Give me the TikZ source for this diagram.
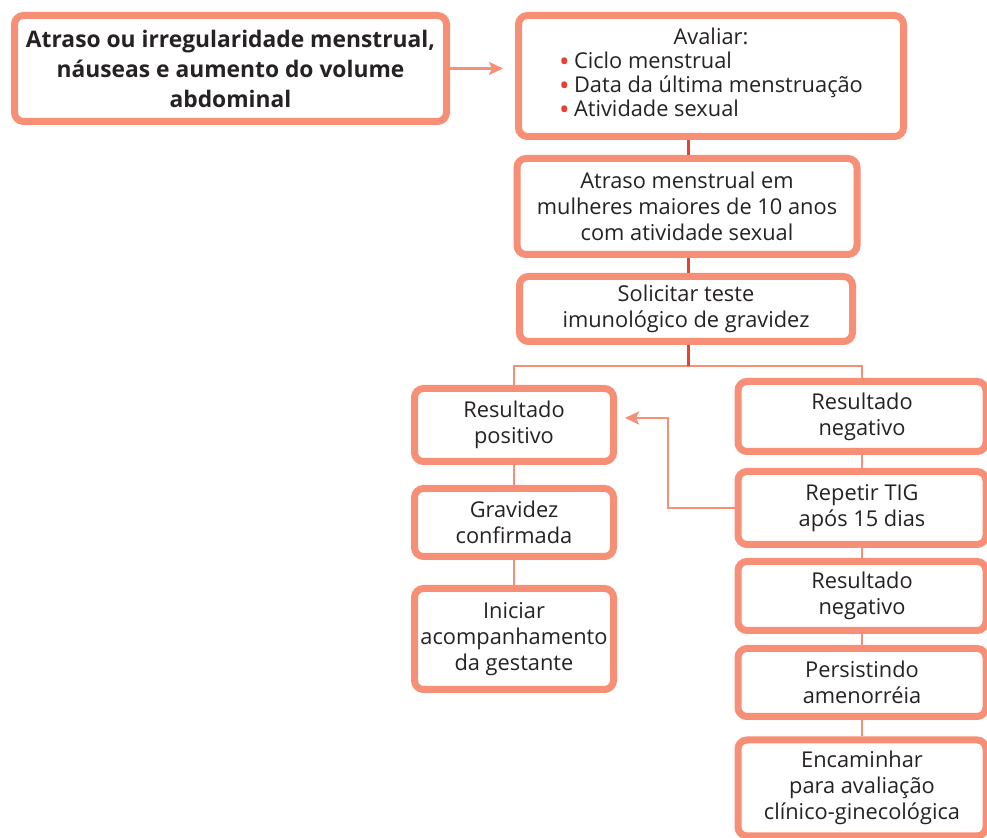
\documentclass[tikz,border=0pt]{standalone}
\usepackage{fontspec}
\setmainfont{Open Sans}
\usepackage{tikz}
\usetikzlibrary{shapes.geometric,arrows,arrows.meta}
\definecolor{boxline}{RGB}{246,143,117}
\definecolor{redline}{RGB}{233,64,52}
\definecolor{inkgray}{RGB}{38,34,35}
\newcommand{\redbul}{\makebox[7.5pt][l]{\color{redline}\raisebox{-1.6pt}[0pt][0pt]{\fontsize{14}{12}\selectfont\textbullet}}}
\tikzstyle{process} = [rectangle, rounded corners=4.5pt, draw=boxline, line width=3.5pt,
fill=white, text=inkgray, align=center, inner sep=0pt, font=\fontsize{10.9}{13}\selectfont]
\tikzstyle{start} = [process, font=\bfseries\fontsize{11.4}{15}\selectfont]
\tikzstyle{link} = [draw=boxline, line width=1pt]
\tikzstyle{mainlink} = [draw=redline, line width=1.5pt]
\tikzstyle{arrow} = [draw=boxline, line width=1.25pt, -{Stealth[length=7pt,width=6.5pt,inset=1.5pt]}]

\begin{document}
\begin{tikzpicture}[x=0.5pt,y=-0.5pt]
                 \useasboundingbox (0,0) rectangle (987,838);
                 % top row
                 \node (sinais) [start, minimum width=216pt, minimum height=53pt] at (230.5,68.5)
                     {Atraso ou irregularidade menstrual,\\ náuseas e aumento do volume\\ abdominal};
                 \node (avaliar) [process, minimum width=192.5pt, minimum height=60.5pt] at (711,76)
                     {\fontsize{10.9}{12}\selectfont
                      \begin{tabular}{@{}l@{}}
                      \multicolumn{1}{@{}c@{}}{Avaliar:}\\
                      \redbul Ciclo menstrual\\
                      \redbul Data da última menstruação\\
                      \redbul Atividade sexual
                      \end{tabular}};
                 % central column
                 \node (atraso) [process, minimum width=170pt, minimum height=48pt] at (687,206.5)
                     {Atraso menstrual em\\ mulheres maiores de 10 anos\\ com atividade sexual};
                 \node (teste) [process, minimum width=166.5pt, minimum height=32.5pt] at (686,309)
                     {Solicitar teste\\ imunológico de gravidez};
                 \coordinate (split) at (688,366);
                 % left column
                 \node (pos) [process, minimum width=99.5pt, minimum height=36.5pt] at (514,425)
                     {Resultado\\ positivo};
                 \node (grav) [process, minimum width=99.5pt, minimum height=34pt] at (514,522.5)
                     {Gravidez\\ confirmada};
                 \node (pre) [process, minimum width=99.5pt, minimum height=50.5pt] at (514,639)
                     {Iniciar\\ acompanhamento\\ da gestante};
                 % right column
                 \node (neg1) [process, minimum width=124pt, minimum height=35pt] at (862,416.5)
                     {Resultado\\ negativo};
                 \node (rep) [process, minimum width=124pt, minimum height=36.5pt] at (862,508)
                     {Repetir TIG\\ após 15 dias};
                 \node (neg2) [process, minimum width=124pt, minimum height=34.5pt] at (862,596)
                     {Resultado\\ negativo};
                 \node (amen) [process, minimum width=124pt, minimum height=34pt] at (862,682.5)
                     {Persistindo\\ amenorréia};
                 \node (enc) [process, minimum width=124pt, minimum height=48pt] at (862,788)
                     {Encaminhar\\ para avaliação\\ clínico-ginecológica};
                 \coordinate (bend) at (668,418);
                 \draw [arrow, shorten >=6pt] (sinais.east) -- (sinais.east -| avaliar.west);
                 \draw [mainlink] (avaliar.south -| split) -- (atraso.north -| split);
                 \draw [mainlink] (atraso.south -| split) -- (teste.north -| split);
                 \draw [link] (pos.north) |- (split) -| (neg1.north);
                 \draw [mainlink] (teste.south -| split) -- (split);
                 \draw [link] (pos) -- (grav);
                 \draw [link] (grav) -- (pre);
                 \draw [link] (neg1) -- (rep);
                 \draw [link] (rep) -- (neg2);
                 \draw [link] (neg2) -- (amen);
                 \draw [link] (amen) -- (enc);
                 \draw [arrow, shorten >=4pt] (rep.west) -| (bend) -- (bend -| pos.east);
             \end{tikzpicture}
\end{document}
